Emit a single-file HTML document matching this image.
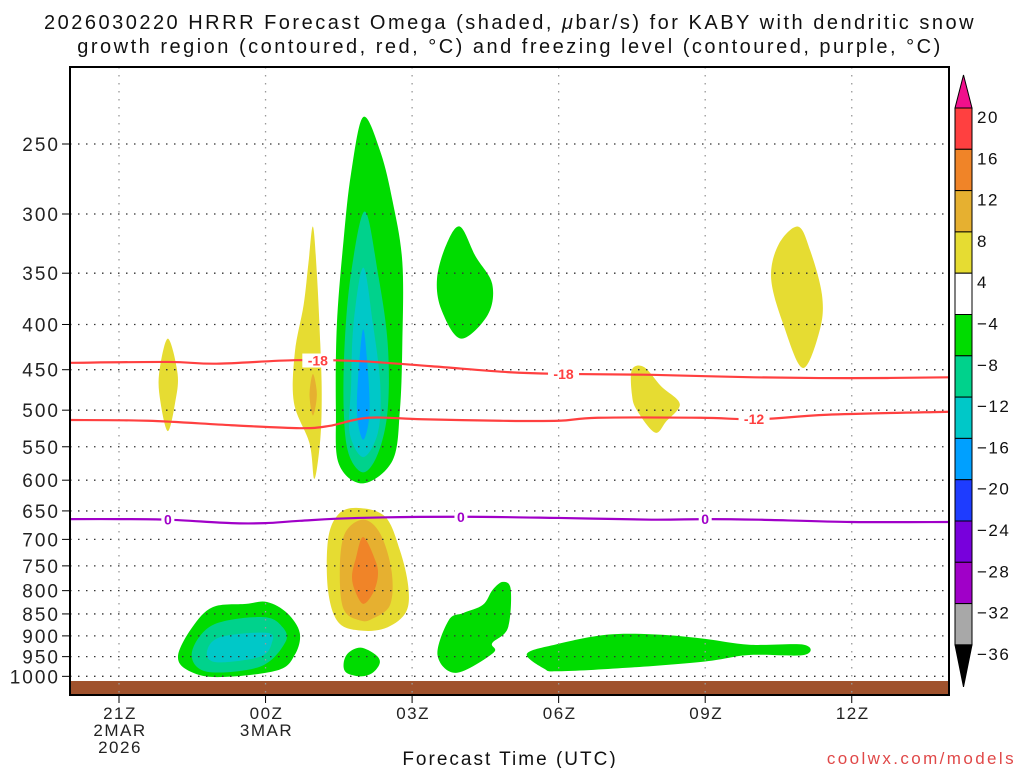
<!DOCTYPE html>
<html><head><meta charset="utf-8">
<style>
body{margin:0;background:#fff;}
svg text{font-family:"Liberation Sans","DejaVu Sans",sans-serif;}
</style></head>
<body>
<svg id="chart" width="1024" height="768" xmlns="http://www.w3.org/2000/svg">
<text x="510" y="29" text-anchor="middle" font-size="20" letter-spacing="2.5" fill="#111">2026030220 HRRR Forecast Omega (shaded, <tspan font-style="italic">μ</tspan>bar/s) for KABY with dendritic snow</text>
<text x="510" y="53" text-anchor="middle" font-size="20" letter-spacing="2.5" fill="#111">growth region (contoured, red, °C) and freezing level (contoured, purple, °C)</text>
<g id="shapes"></g>
<g id="grid"></g>
<g id="lines"></g>
<g id="axes"></g>
<g id="cbar"></g>
<text x="510" y="765" text-anchor="middle" font-size="19" letter-spacing="2" fill="#111">Forecast Time (UTC)</text>
<text x="1016" y="764" text-anchor="end" font-size="17" letter-spacing="2.4" fill="#e04848">coolwx.com/models</text>
</svg>
<script>
// ---- data ----
const pressureTicks=[250,300,350,400,450,500,550,600,650,700,750,800,850,900,950,1000];
const timeTickHours=[0,3,6,9,12,15];
const timeTickLabels=[["21Z","2MAR","2026"],["00Z","3MAR"],["03Z"],["06Z"],["09Z"],["12Z"]];
const cbarLevels=[20,16,12,8,4,-4,-8,-12,-16,-20,-24,-28,-32,-36];
const cbarColors=["#ff4040","#f08428","#e6b030","#e6dc32","#ffffff","#00dc00","#00d28c","#00c8c8","#00a0ff","#1e3cff","#7800dc","#a000c8","#a8a8a8"];
// contour lines: [hour, hPa]
const lineMinus18=[[-1,442],[1,441],[2,443],[3.6,439],[4.9,440],[6.4,446],[8.0,453],[9.1,455],[10.9,456],[13,459],[15,460],[17,459]];
const lineMinus12=[[-1,513],[0.6,514],[2.3,520],[3.7,524],[4.3,521],[5.1,510],[6.2,512],[7.8,514],[9.0,514],[9.8,510],[11.9,510],[13.1,512],[14.5,506],[17,502]];
const lineZero=[[-1,664],[0,664],[1.0,665],[2.3,671],[3.0,671],[3.7,667],[4.9,662],[7.0,660],[9.0,662],[10.9,665],[12,664],[13.1,665],[15,669],[17,669]];
const labels18=[[4.07,"-18"],[9.1,"-18"]];
const labels12=[[13.0,"-12"]];
const labels0=[[1.0,"0"],[7.0,"0"],[12.0,"0"]];
// shaded areas: [color, points [hour,hPa]]
const areas=[
 ["#e6dc32",[[1.0,415],[1.2,455],[1.15,490],[1.0,528],[0.85,490],[0.82,455]]],
 ["#e6dc32",[[3.97,310],[4.05,350],[4.12,420],[4.15,480],[4.12,540],[4.0,598],[3.9,545],[3.58,490],[3.6,430],[3.78,380],[3.88,340]]],
 ["#e6b030",[[3.97,455],[4.05,480],[3.97,507],[3.9,480]]],
 ["#00dc00",[[5.0,233],[5.35,255],[5.6,290],[5.8,340],[5.8,420],[5.75,500],[5.6,570],[5.0,605],[4.5,575],[4.44,500],[4.46,400],[4.6,320],[4.75,270]]],
 ["#00d28c",[[5.03,298],[5.3,350],[5.5,420],[5.5,500],[5.3,560],[5.0,588],[4.7,560],[4.6,500],[4.62,420],[4.75,350]]],
 ["#00c8c8",[[5.0,345],[5.2,400],[5.35,470],[5.3,530],[5.0,565],[4.72,530],[4.75,470],[4.8,400]]],
 ["#00a0ff",[[5.0,405],[5.08,440],[5.13,490],[5.1,520],[5.0,540],[4.9,520],[4.87,490],[4.92,440]]],
 ["#00dc00",[[6.98,310],[7.3,335],[7.64,360],[7.55,390],[7.0,415],[6.6,385],[6.51,355],[6.7,325]]],
 ["#e6dc32",[[4.9,645],[5.45,660],[5.75,720],[5.92,790],[5.88,845],[5.5,880],[5.0,888],[4.5,870],[4.28,800],[4.28,700],[4.5,655]]],
 ["#e6b030",[[5.0,665],[5.35,690],[5.58,760],[5.55,830],[5.2,860],[4.95,865],[4.6,840],[4.52,760],[4.62,690]]],
 ["#f08428",[[5.0,696],[5.25,740],[5.3,770],[5.2,805],[5.0,828],[4.83,800],[4.77,770],[4.85,735]]],
 ["#00dc00",[[4.95,928],[5.25,945],[5.34,965],[5.2,990],[4.95,1000],[4.65,990],[4.6,965],[4.7,940]]],
 ["#00dc00",[[7.86,782],[8.02,798],[7.96,882],[7.64,917],[7.66,941],[6.9,991],[6.52,946],[6.75,864],[7.05,848],[7.45,830],[7.65,798]]],
 ["#00dc00",[[8.35,943],[8.95,920],[10.0,897],[11.05,897],[12.0,907],[12.9,921],[14.02,921],[14.02,946],[12.9,946],[12.0,962],[10.4,978],[9.0,987],[8.7,980]]],
 ["#00dc00",[[1.21,946],[1.5,880],[1.92,835],[2.6,828],[3.03,824],[3.44,848],[3.7,893],[3.6,945],[3.23,985],[2.0,1002],[1.39,983]]],
 ["#00d28c",[[1.49,941],[1.92,875],[2.95,857],[3.35,880],[3.4,916],[2.89,975],[1.8,988]]],
 ["#00c8c8",[[1.8,939],[2.07,903],[3.03,893],[3.13,916],[2.89,950],[2.0,964]]],
 ["#e6dc32",[[10.5,450],[10.75,447],[11.1,470],[11.48,492],[11.2,515],[10.97,530],[10.6,500],[10.5,480]]],
 ["#e6dc32",[[13.9,310],[14.15,330],[14.39,370],[14.35,405],[14.0,448],[13.6,400],[13.35,355],[13.5,325]]]
];
// ---- axes ----
const L=70,R=949,T=67,B=695;
const xs=h=>119+48.85*h;
const ys=p=>144+384*Math.log(p/250);
const NS="http://www.w3.org/2000/svg";
function mk(tag,attrs,parent){const e=document.createElementNS(NS,tag);for(const k in attrs)e.setAttribute(k,attrs[k]);parent.appendChild(e);return e;}
function smoothClosed(pts){
  const n=pts.length;let d=`M${pts[0][0]},${pts[0][1]}`;
  for(let i=0;i<n;i++){const p0=pts[(i-1+n)%n],p1=pts[i],p2=pts[(i+1)%n],p3=pts[(i+2)%n];
    const c1=[p1[0]+(p2[0]-p0[0])/6,p1[1]+(p2[1]-p0[1])/6],c2=[p2[0]-(p3[0]-p1[0])/6,p2[1]-(p3[1]-p1[1])/6];
    d+=`C${c1[0]},${c1[1]} ${c2[0]},${c2[1]} ${p2[0]},${p2[1]}`;}
  return d+"Z";}
function smoothOpen(pts){
  let d=`M${pts[0][0]},${pts[0][1]}`;const n=pts.length;
  for(let i=0;i<n-1;i++){const p0=pts[Math.max(i-1,0)],p1=pts[i],p2=pts[i+1],p3=pts[Math.min(i+2,n-1)];
    const c1=[p1[0]+(p2[0]-p0[0])/6,p1[1]+(p2[1]-p0[1])/6],c2=[p2[0]-(p3[0]-p1[0])/6,p2[1]-(p3[1]-p1[1])/6];
    d+=`C${c1[0]},${c1[1]} ${c2[0]},${c2[1]} ${p2[0]},${p2[1]}`;}
  return d;}
const gS=document.getElementById('shapes');
const clip=mk('clipPath',{id:'pc'},gS);mk('rect',{x:L,y:T,width:R-L,height:B-T},clip);
gS.setAttribute('clip-path','url(#pc)');
areas.forEach((a,i)=>{
  const pts=a[1].map(q=>[xs(q[0]),ys(q[1])]);
  const e=mk('path',{d:smoothClosed(pts),fill:a[0]},gS);
  
  
});
const gr=mk('rect',{x:L,y:681,width:R-L,height:B-681,fill:'#a0522d'},gS);


// grid
const gG=document.getElementById('grid');
pressureTicks.forEach(p=>{
  const e=mk('line',{x1:L,x2:R,y1:ys(p),y2:ys(p),stroke:'#333','stroke-width':1.3,'stroke-dasharray':'1.5 6.5'},gG);
  
  
});
timeTickHours.forEach(h=>{
  const e=mk('line',{x1:xs(h),x2:xs(h),y1:T,y2:B,stroke:'#999','stroke-width':1.3,'stroke-dasharray':'1.5 6.5'},gG);
  
  
});
// lines
const gL=document.getElementById('lines');
gL.setAttribute('clip-path','url(#pc)');
function drawLine(data,color,labs,name){
  const pts=data.map(q=>[xs(q[0]),ys(q[1])]);
  const e=mk('path',{d:smoothOpen(pts),fill:'none',stroke:color,'stroke-width':2.2},gL);
  
  
  labs.forEach(lb=>{
    let p=data[0][1];
    for(let i=0;i<data.length-1;i++){if(lb[0]>=data[i][0]&&lb[0]<=data[i+1][0]){const f=(lb[0]-data[i][0])/(data[i+1][0]-data[i][0]);p=data[i][1]+f*(data[i+1][1]-data[i][1]);}}
    const x=xs(lb[0]),y=ys(p),w=lb[1].length*9+4;
    mk('rect',{x:x-w/2,y:y-7,width:w,height:14,fill:'#fff'},gL);
    const t=mk('text',{x:x,y:y+5,'text-anchor':'middle','font-size':14,'font-weight':'bold',fill:color},gL);
    t.textContent=lb[1];
    
    
  });
}
drawLine(lineMinus18,'#ff4040',labels18,'contour-minus18');
drawLine(lineMinus12,'#ff4040',labels12,'contour-minus12');
drawLine(lineZero,'#a000c8',labels0,'freezing-level-0');
// axes
const gA=document.getElementById('axes');
const fr=mk('rect',{x:L,y:T,width:R-L,height:B-T,fill:'none',stroke:'#000','stroke-width':2},gA);


pressureTicks.forEach(p=>{
  mk('line',{x1:L-8,x2:L,y1:ys(p),y2:ys(p),stroke:'#000','stroke-width':1},gA);
  const t=mk('text',{x:L-10,y:ys(p)+7,'text-anchor':'end','font-size':19,'letter-spacing':2,fill:'#222'},gA);
  t.textContent=p;
  
  
});
timeTickHours.forEach((h,i)=>{
  mk('line',{x1:xs(h),x2:xs(h),y1:B,y2:B+8,stroke:'#000','stroke-width':1},gA);
  timeTickLabels[i].forEach((s,j)=>{
    const t=mk('text',{x:xs(h)+1,y:B+24+j*17,'text-anchor':'middle','font-size':17,'letter-spacing':1.5,fill:'#222'},gA);
    t.textContent=s;
    
    
  });
});
// colorbar
const gC=document.getElementById('cbar');
const cx=955,cw=17,top0=108,step=41.3;
cbarColors.forEach((c,i)=>{
  const e=mk('rect',{x:cx,y:top0+i*step,width:cw,height:step,fill:c,stroke:'#000','stroke-width':1},gC);
  
  
});
const tu=mk('polygon',{points:`${cx},${top0} ${cx+cw},${top0} ${cx+cw/2},${top0-33}`,fill:'#f0108c',stroke:'#000'},gC);


const yb=top0+cbarColors.length*step;
const tb=mk('polygon',{points:`${cx},${yb} ${cx+cw},${yb} ${cx+cw/2},${yb+42}`,fill:'#000',stroke:'#000'},gC);


cbarLevels.forEach((v,i)=>{
  const t=mk('text',{x:977,y:top0+i*step+15,'font-size':17,'letter-spacing':1.5,fill:'#111'},gC);
  t.textContent=v<0?'\u2212'+(-v):String(v);
  
  
});
</script>
</body></html>
